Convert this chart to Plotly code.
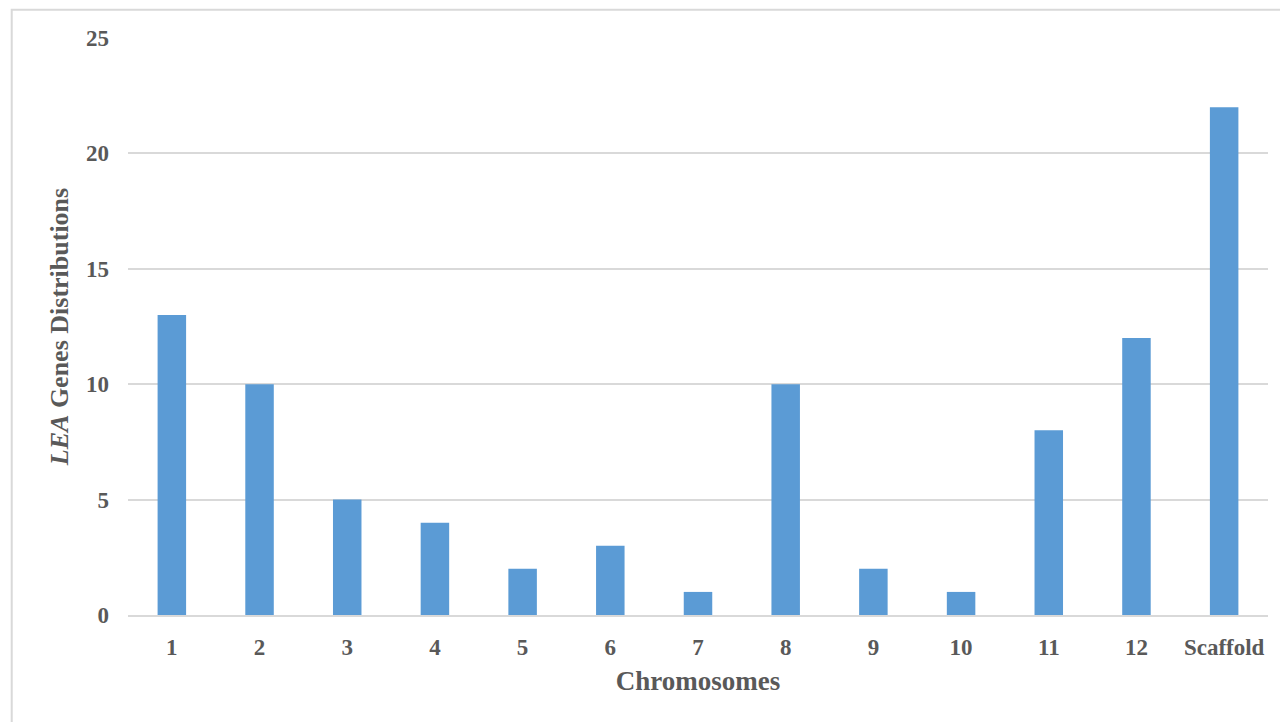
import plotly.graph_objects as go

categories = ["1", "2", "3", "4", "5", "6", "7", "8", "9", "10", "11", "12", "Scaffold"]
counts = [13, 10, 5, 4, 2, 3, 1, 10, 2, 1, 8, 12, 22]
y_ticks = [0, 5, 10, 15, 20, 25]

FONT = "Liberation Serif"
GREY = "#595959"

fig = go.Figure(go.Bar(x=categories, y=counts, marker=dict(color="#5B9BD5", line=dict(width=0))))

fig.update_layout(
    width=1288, height=722,
    margin=dict(l=120, r=28, t=30, b=115),
    paper_bgcolor="white", plot_bgcolor="white",
    bargap=0.675,
    showlegend=False,
    font=dict(family=FONT, color=GREY, size=22),
)
fig.update_xaxes(
    type="category",
    tickvals=categories,
    ticktext=["<b>%s</b>" % c for c in categories],
    tickfont=dict(family=FONT, size=23, color=GREY),
    ticklabelstandoff=10,
    showgrid=False, showline=True, linecolor="#D9D9D9", linewidth=2,
    title=dict(text="<b>Chromosomes</b>", font=dict(family=FONT, size=27, color=GREY), standoff=13),
)
fig.update_yaxes(
    range=[0, 25], tickvals=y_ticks,
    ticktext=["<b>%d</b>" % v for v in y_ticks],
    tickfont=dict(family=FONT, size=23, color=GREY),
    ticklabelstandoff=18,
    showgrid=True, gridcolor="#D9D9D9", gridwidth=2,
    zeroline=False, showline=False,
    title=dict(text="<b><i>LEA</i> Genes Distributions</b>", font=dict(family=FONT, size=26, color=GREY), standoff=9),
)

fig.add_shape(type="rect", xref="paper", yref="paper",
              x0=-0.102, x1=1.05, y0=-0.25, y1=1.049,
              line=dict(color="#D9D9D9", width=2), fillcolor="rgba(0,0,0,0)", layer="below")

fig.write_html("out.html")
